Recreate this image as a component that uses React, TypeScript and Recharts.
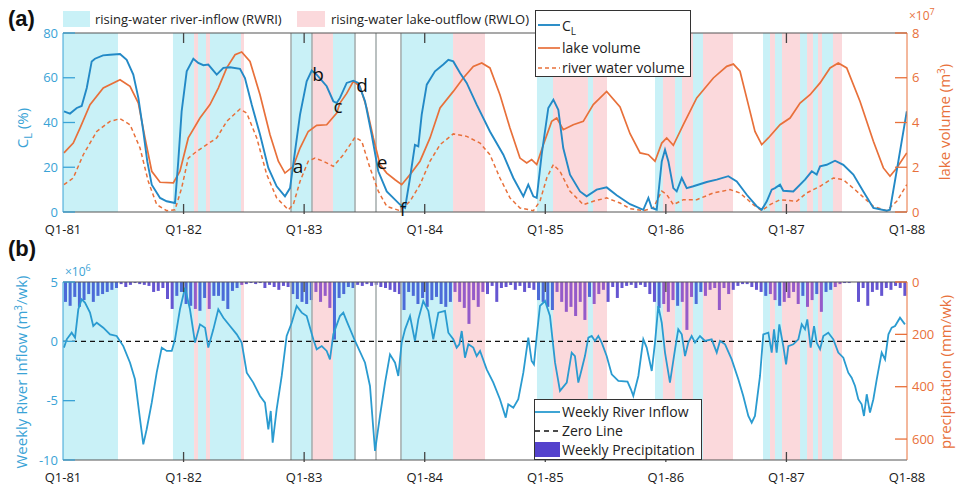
import { ComposedChart, Line, Bar, Cell, XAxis, YAxis, ReferenceArea, ReferenceLine } from "recharts"

const cyan = "#3aa3d6"
const orange = "#e8703a"
const clColor = "#2389c6"
const inflowColor = "#2a9bd0"
const bandRWRI = "#c9f1f7"
const bandRWLO = "#fbd9dc"
const precipColor = "#5442cc"
const precipInRWRI = "#3d5cd4"
const precipInRWLO = "#8a4cc6"
const eventColor = "#a3abab"
const frameColor = "#555"
const font = "'Open Sans', sans-serif"

// years since Q1-81
const yearTicks = [0, 1, 2, 3, 4, 5, 6, 7]
const yearLabels = ["Q1-81", "Q1-82", "Q1-83", "Q1-84", "Q1-85", "Q1-86", "Q1-87", "Q1-88"]

const rwriBands = [
  [0, 0.456], [0.912, 1.087], [1.12, 1.186], [1.219, 1.476], [1.891, 2.065], [2.239, 2.422],
  [2.803, 3.235], [3.931, 4.064], [4.354, 4.396], [4.91, 4.976], [5.076, 5.134], [5.225, 5.308],
  [5.806, 5.864], [5.905, 5.963], [6.113, 6.171], [6.22, 6.262], [6.295, 6.386],
]
const rwloBands = [
  [1.087, 1.12], [1.186, 1.219], [1.476, 1.501], [2.065, 2.239], [3.235, 3.5], [4.064, 4.354],
  [4.396, 4.512], [4.976, 5.076], [5.134, 5.225], [5.308, 5.557], [5.864, 5.905], [5.963, 6.113],
  [6.171, 6.22], [6.262, 6.295], [6.386, 6.461],
]
const eventLines = [1.891, 2.065, 2.422, 2.596, 2.803]

// C_L (%)
const clData = [
  [0.008, 45], [0.058, 44], [0.114, 46.5], [0.155, 47.4], [0.197, 55.4], [0.238, 67.3], [0.265, 68.5],
  [0.332, 70], [0.39, 70.3], [0.473, 70.6], [0.528, 68], [0.583, 61.4], [0.625, 51], [0.666, 36],
  [0.699, 22.6], [0.736, 12.2], [0.805, 6.3], [0.86, 4.8], [0.929, 4], [0.956, 22.6], [0.984, 45],
  [1.026, 62.9], [1.081, 68.5], [1.122, 66.6], [1.164, 65.6], [1.205, 65.9], [1.275, 61.4], [1.33, 64.4],
  [1.385, 64.7], [1.468, 64], [1.509, 59.9], [1.565, 48], [1.634, 34.6], [1.703, 19.7], [1.772, 11.5],
  [1.841, 7], [1.883, 10.7], [1.924, 27], [1.966, 43.5], [2.021, 58.4], [2.063, 63.2], [2.104, 61.4],
  [2.187, 56.2], [2.242, 49.5], [2.27, 48.7], [2.297, 51], [2.353, 57.7], [2.408, 58.7], [2.449, 57.7],
  [2.505, 49.5], [2.56, 34.6], [2.615, 18.2], [2.685, 9.2], [2.795, 3.3], [2.837, 1.8], [2.878, 15.2],
  [2.919, 30], [2.947, 29.3], [2.975, 43.5], [3.017, 56.9], [3.085, 62.9], [3.154, 65.9], [3.196, 68],
  [3.237, 67.3], [3.293, 62.1], [3.348, 57.7], [3.431, 48], [3.541, 36], [3.652, 25.6], [3.735, 15.2],
  [3.818, 7], [3.859, 12.2], [3.901, 7], [3.929, 6.3], [3.97, 25.6], [4.025, 46.5], [4.067, 50.2],
  [4.108, 45.7], [4.149, 28.6], [4.205, 16.7], [4.288, 9.2], [4.343, 7], [4.426, 10], [4.509, 11],
  [4.592, 7.5], [4.703, 3.5], [4.813, 1], [4.855, 6.3], [4.883, 1.8], [4.924, 1], [4.966, 22.6],
  [4.993, 27.8], [5.021, 22.6], [5.062, 10.7], [5.09, 9.2], [5.132, 15.2], [5.173, 10.7], [5.228, 11.5],
  [5.339, 13.4], [5.422, 14.5], [5.518, 16], [5.588, 13.7], [5.671, 7.7], [5.753, 2.6], [5.795, 1],
  [5.837, 4.8], [5.878, 10], [5.905, 10.7], [5.947, 12.2], [5.974, 9.5], [6.057, 9.2], [6.154, 14.5],
  [6.21, 18.2], [6.251, 16.7], [6.279, 20.4], [6.334, 21.1], [6.403, 22.9], [6.472, 21.1], [6.555, 16.7],
  [6.638, 9.2], [6.721, 1.8], [6.832, 0.6], [6.859, 1], [6.928, 22.6], [6.998, 45],
]

// lake volume (x10^7 m3)
const lakeData = [
  [0.008, 2.64], [0.085, 3.08], [0.141, 3.75], [0.224, 4.8], [0.334, 5.54], [0.473, 5.91], [0.556, 5.62],
  [0.625, 4.87], [0.68, 3.31], [0.736, 1.82], [0.805, 1.33], [0.915, 1.3], [0.97, 1.82], [1.039, 3.31],
  [1.136, 4.2], [1.219, 4.8], [1.288, 5.54], [1.358, 6.44], [1.427, 7.03], [1.482, 7.15], [1.551, 6.73],
  [1.634, 5.24], [1.717, 3.45], [1.786, 2.27], [1.841, 1.74], [1.91, 2.04], [1.966, 2.86], [2.034, 3.6],
  [2.104, 3.87], [2.187, 3.9], [2.27, 4.42], [2.297, 4.87], [2.353, 5.3], [2.408, 5.84], [2.463, 5.62],
  [2.519, 4.65], [2.574, 3.31], [2.629, 2.12], [2.685, 1.74], [2.754, 1.44], [2.809, 1.22], [2.878, 1.67],
  [2.961, 2.27], [3.044, 3.31], [3.127, 4.65], [3.237, 5.39], [3.32, 5.99], [3.403, 6.51], [3.473, 6.66],
  [3.541, 6.44], [3.624, 5.24], [3.707, 3.75], [3.79, 2.41], [3.846, 2.19], [3.887, 2.34], [3.929, 2.12],
  [3.984, 3.01], [4.053, 4.05], [4.095, 4.2], [4.149, 3.68], [4.232, 3.9], [4.315, 4.05], [4.398, 4.8],
  [4.509, 5.39], [4.62, 4.7], [4.703, 3.5], [4.786, 2.64], [4.855, 2.56], [4.91, 2.27], [4.966, 3.08],
  [5.007, 3.31], [5.062, 2.98], [5.145, 3.9], [5.256, 5.1], [5.394, 5.99], [5.505, 6.51], [5.56, 6.61],
  [5.615, 6.29], [5.684, 4.8], [5.739, 3.6], [5.795, 3.01], [5.85, 3.31], [5.947, 3.9], [6.03, 4.2],
  [6.113, 4.87], [6.196, 5.24], [6.279, 5.77], [6.362, 6.44], [6.43, 6.66], [6.5, 6.44], [6.61, 4.95],
  [6.721, 3.16], [6.804, 1.97], [6.859, 1.6], [6.915, 1.97], [6.998, 2.64],
]

// river water volume (x10^7 m3)
const riverData = [
  [0.008, 1.22], [0.085, 1.52], [0.168, 2.56], [0.28, 3.6], [0.39, 4.05], [0.473, 4.17], [0.556, 3.9],
  [0.639, 2.86], [0.707, 1.37], [0.777, 0.33], [0.86, 0.06], [0.929, 0.1], [0.984, 1.07], [1.039, 2.41],
  [1.109, 2.71], [1.192, 3.01], [1.275, 3.31], [1.358, 4.05], [1.468, 4.6], [1.524, 4.42], [1.607, 3.31],
  [1.69, 1.67], [1.772, 0.63], [1.869, 0.1], [1.91, 0.33], [1.966, 1.37], [2.034, 2.27], [2.09, 2.41],
  [2.159, 2.27], [2.242, 2.04], [2.325, 2.56], [2.422, 3.34], [2.478, 3.16], [2.546, 1.97], [2.615, 0.93],
  [2.685, 0.25], [2.795, 0.06], [2.878, 0.48], [2.961, 1.22], [3.044, 2.27], [3.127, 3.01], [3.237, 3.49],
  [3.348, 3.38], [3.459, 3.08], [3.541, 2.56], [3.624, 1.52], [3.707, 0.63], [3.79, 0.18], [3.901, 0.06],
  [3.956, 0.48], [4.012, 1.52], [4.067, 2.12], [4.122, 1.82], [4.205, 0.93], [4.315, 0.33], [4.398, 0.48],
  [4.509, 0.63], [4.62, 0.4], [4.703, 0.15], [4.813, 0.06], [4.896, 0.18], [4.966, 0.93], [5.007, 0.78],
  [5.062, 0.33], [5.145, 0.55], [5.256, 0.55], [5.394, 0.85], [5.532, 1.0], [5.615, 0.85], [5.725, 0.33],
  [5.795, 0.06], [5.864, 0.33], [5.947, 0.55], [6.085, 0.48], [6.168, 0.85], [6.279, 1.15], [6.389, 1.52],
  [6.472, 1.44], [6.583, 0.93], [6.721, 0.25], [6.832, 0.06], [6.915, 0.48], [6.998, 1.22],
]

// weekly river inflow (x10^6 m3/wk)
const inflowData = [
  [0.008, -0.53], [0.031, 0.17], [0.072, 0.73], [0.1, 0.31], [0.127, 2.7], [0.155, 3.54], [0.182, 3.26],
  [0.224, 2.42], [0.251, 1.29], [0.28, 1.57], [0.334, 1.15], [0.39, 0.59], [0.445, 0.45], [0.5, -0.4],
  [0.556, -1.8], [0.597, -3.2], [0.639, -6.57], [0.666, -8.68], [0.694, -7.41], [0.736, -5.17],
  [0.777, -2.64], [0.819, -0.53], [0.86, -0.81], [0.902, -0.81], [0.929, 0.17], [0.97, 2.7], [1.012, 4.52],
  [1.053, 2.7], [1.095, -0.11], [1.136, 1.43], [1.178, 1.15], [1.205, -0.53], [1.247, 1.01], [1.288, 2.7],
  [1.33, 1.99], [1.385, 1.29], [1.441, 0.59], [1.482, -0.11], [1.524, -2.64], [1.578, -3.48], [1.634, -4.6],
  [1.675, -5.17], [1.703, -7.41], [1.723, -5.87], [1.739, -8.54], [1.772, -5.73], [1.814, -2.92],
  [1.855, 0.45], [1.897, 1.57], [1.938, 2.98], [1.98, 2.42], [2.021, 2.13], [2.076, 0.17], [2.104, -0.67],
  [2.146, -0.4], [2.187, -0.81], [2.214, -1.52], [2.242, 0.59], [2.297, 2.13], [2.325, 2.42], [2.353, 1.71],
  [2.422, 0.03], [2.505, -1.8], [2.546, -3.76], [2.588, -9.24], [2.629, -6.29], [2.671, -3.48],
  [2.712, -1.1], [2.754, -1.8], [2.781, -2.92], [2.809, -0.11], [2.837, 1.01], [2.878, 2.13], [2.919, 0.03],
  [2.947, 1.85], [2.988, 3.4], [3.03, 2.56], [3.071, 0.17], [3.113, 2.42], [3.168, 2.56], [3.196, 0.73],
  [3.237, 0.17], [3.265, -0.53], [3.287, -0.25], [3.307, 0.87], [3.334, -1.38], [3.362, -0.25],
  [3.403, -0.53], [3.431, -1.24], [3.459, -0.81], [3.514, -2.36], [3.569, -3.48], [3.624, -4.88],
  [3.672, -6.43], [3.693, -5.31], [3.735, -5.59], [3.776, -4.88], [3.818, -2.64], [3.859, 0.31],
  [3.887, -1.66], [3.906, -1.94], [3.929, 0.45], [3.956, 2.98], [3.998, 3.4], [4.039, 2.13], [4.081, -1.8],
  [4.122, -4.18], [4.178, -3.48], [4.219, -0.95], [4.246, -1.24], [4.274, -3.48], [4.302, -2.36],
  [4.329, -1.24], [4.357, 0.31], [4.385, 0.45], [4.412, 0.03], [4.44, 0.45], [4.468, -0.11], [4.509, -1.24],
  [4.551, -2.78], [4.606, -3.34], [4.682, -3.4], [4.71, -4.04], [4.73, -4.6], [4.772, -2.92], [4.813, 0.17],
  [4.841, -0.53], [4.883, -2.5], [4.91, -0.11], [4.937, 2.98], [4.966, 1.57], [4.993, -0.95], [5.034, -3.48],
  [5.076, -0.67], [5.103, 1.01], [5.132, 0.59], [5.159, -1.24], [5.186, -0.11], [5.214, 0.45], [5.242, -0.11],
  [5.283, 0.45], [5.325, 0.03], [5.38, 0.17], [5.422, -0.95], [5.449, 0.03], [5.491, -0.25], [5.546, -1.52],
  [5.601, -3.2], [5.642, -4.6], [5.684, -6.29], [5.712, -6.85], [5.739, -6.29], [5.781, -2.92], [5.808, 0.59],
  [5.85, 0.73], [5.878, -0.95], [5.897, 1.01], [5.919, -0.95], [5.941, 1.43], [5.974, -0.4], [5.997, -1.94],
  [6.016, -0.4], [6.057, -0.25], [6.099, 0.17], [6.127, 1.43], [6.154, 1.01], [6.173, 1.85], [6.201, -0.53],
  [6.229, 1.29], [6.251, -0.11], [6.279, -0.67], [6.306, 0.45], [6.347, 0.73], [6.389, 0.17], [6.43, -0.95],
  [6.472, -1.38], [6.513, -2.64], [6.541, -3.06], [6.569, -3.76], [6.596, -4.88], [6.624, -5.31],
  [6.643, -6.29], [6.666, -4.46], [6.693, -6.01], [6.721, -4.88], [6.749, -3.2], [6.79, -0.95],
  [6.818, -1.52], [6.846, 0.59], [6.873, 1.15], [6.901, 1.29], [6.942, 1.99], [6.983, 1.43],
]

// precipitation (mm/wk), one value every 2 weeks from Q1-81
const precipStep = 1 / 26
const precip = [
  76, 91, 57, 95, 69, 46, 76, 53, 46, 38, 30, 23, 8, 19, 11, 4, 8, 11, 15, 38, 34, 23, 65, 103, 53, 38,
  84, 91, 103, 110, 61, 103, 53, 53, 72, 103, 34, 23, 11, 8, 4, 8, 4, 23, 11, 19, 30, 15, 19, 46, 65, 76,
  84, 69, 38, 76, 53, 99, 220, 61, 46, 19, 23, 11, 15, 8, 15, 11, 19, 23, 30, 38, 46, 107, 38, 53, 84, 61,
  95, 69, 57, 84, 95, 76, 38, 76, 99, 160, 69, 95, 38, 46, 15, 76, 23, 19, 11, 30, 15, 38, 23, 30, 69, 76,
  95, 107, 38, 76, 114, 95, 130, 76, 145, 57, 84, 46, 30, 76, 19, 61, 23, 15, 11, 23, 11, 19, 46, 76, 99, 84,
  114, 69, 91, 76, 183, 57, 84, 38, 53, 30, 23, 107, 23, 46, 30, 15, 8, 8, 19, 30, 38, 53, 46, 69, 91, 76,
  61, 38, 84, 53, 95, 69, 46, 114, 38, 30, 19, 8, 4, 4, 0, 76, 23, 91, 38, 30, 53, 23, 30, 15, 23, 53,
]

const toRows = (pts: number[][]) => pts.map(([t, v]) => ({ t, v }))
// bars hang down from the top of panel (b): stored negative on a [-680, 0] axis
const precipRows = precip.map((p, i) => ({ slot: i, p: -p }))

const inBands = (t: number, bands: number[][]) => bands.some(([a, b]) => t >= a && t < b)
function barColor(i: number) {
  const t = (i + 0.5) * precipStep
  if (inBands(t, rwriBands)) return precipInRWRI
  if (inBands(t, rwloBands)) return precipInRWLO
  return precipColor
}

function XTick(props: any) {
  const { x, y, payload, top } = props
  const inner = payload.value > 0 && payload.value < 7
  return (
    <g>
      {inner && <line x1={x} x2={x} y1={y} y2={y - 10} stroke="#444" strokeWidth={1.3} />}
      {inner && <line x1={x} x2={x} y1={top} y2={top + 10} stroke="#444" strokeWidth={1.3} />}
      <text x={x} y={y + 20} textAnchor="middle" fill="#1a1a1a" fontSize={13} fontFamily={font}>
        {yearLabels[yearTicks.indexOf(payload.value)]}
      </text>
    </g>
  )
}

function SideTick(props: any) {
  const { x, y, payload, color, side } = props
  const left = side === "left"
  const edge = left ? x + 5 : x - 5
  return (
    <g>
      <line x1={edge} x2={left ? edge + 12 : edge - 12} y1={y} y2={y} stroke={color} strokeWidth={1.3} />
      <text x={x} y={y + 4.5} textAnchor={left ? "end" : "start"} fill={color} fontSize={13} fontFamily={font}>
        {payload.value}
      </text>
    </g>
  )
}

function PrecipTick(props: any) {
  return <SideTick {...props} side="right" payload={{ value: Math.abs(props.payload.value) }} />
}

function TopPanel() {
  return (
    <ComposedChart width={958} height={240} margin={{ top: 33, right: 11, bottom: 8, left: 23 }}>
      {rwriBands.map(([a, b], i) => (
        <ReferenceArea key={"ri" + i} yAxisId="l" x1={a} x2={b} fill={bandRWRI} fillOpacity={1} stroke="none" ifOverflow="hidden" />
      ))}
      {rwloBands.map(([a, b], i) => (
        <ReferenceArea key={"ro" + i} yAxisId="l" x1={a} x2={b} fill={bandRWLO} fillOpacity={1} stroke="none" ifOverflow="hidden" />
      ))}
      {eventLines.map((t) => (
        <ReferenceLine key={t} yAxisId="l" x={t} stroke={eventColor} strokeWidth={1.5} />
      ))}
      <ReferenceLine yAxisId="l" y={80} stroke={frameColor} strokeWidth={1.2} />
      <XAxis
        type="number"
        dataKey="t"
        domain={[0, 7]}
        ticks={yearTicks}
        allowDataOverflow
        height={20}
        tickSize={0}
        interval={0}
        stroke={frameColor}
        tick={(p: any) => <XTick {...p} top={33} />}
      />
      <YAxis
        yAxisId="l"
        domain={[0, 80]}
        ticks={[0, 20, 40, 60, 80]}
        width={40}
        tickSize={0}
        tickMargin={5}
        interval={0}
        stroke={cyan}
        tick={(p: any) => <SideTick {...p} color={cyan} side="left" />}
      />
      <YAxis
        yAxisId="r"
        orientation="right"
        domain={[0, 8]}
        ticks={[0, 2, 4, 6, 8]}
        width={40}
        tickSize={0}
        tickMargin={5}
        interval={0}
        stroke={orange}
        tick={(p: any) => <SideTick {...p} color={orange} side="right" />}
      />
      <Line yAxisId="r" data={toRows(riverData)} dataKey="v" type="linear" stroke={orange} strokeWidth={1.5} strokeDasharray="4 3" dot={false} isAnimationActive={false} />
      <Line yAxisId="r" data={toRows(lakeData)} dataKey="v" type="linear" stroke={orange} strokeWidth={1.7} dot={false} isAnimationActive={false} />
      <Line yAxisId="l" data={toRows(clData)} dataKey="v" type="linear" stroke={clColor} strokeWidth={1.9} dot={false} isAnimationActive={false} />
    </ComposedChart>
  )
}

function BottomPanel() {
  return (
    <ComposedChart width={958} height={246} data={precipRows} margin={{ top: 42, right: 11, bottom: 6, left: 23 }}>
      {rwriBands.map(([a, b], i) => (
        <ReferenceArea key={"ri" + i} xAxisId="t" yAxisId="l" x1={a} x2={b} fill={bandRWRI} fillOpacity={1} stroke="none" ifOverflow="hidden" />
      ))}
      {rwloBands.map(([a, b], i) => (
        <ReferenceArea key={"ro" + i} xAxisId="t" yAxisId="l" x1={a} x2={b} fill={bandRWLO} fillOpacity={1} stroke="none" ifOverflow="hidden" />
      ))}
      {eventLines.map((t) => (
        <ReferenceLine key={t} xAxisId="t" yAxisId="l" x={t} stroke={eventColor} strokeWidth={1.5} />
      ))}
      <ReferenceLine xAxisId="t" yAxisId="l" y={5} stroke={frameColor} strokeWidth={1.2} />
      <XAxis xAxisId="c" type="category" dataKey="slot" hide height={0} />
      <XAxis
        xAxisId="t"
        type="number"
        dataKey="t"
        domain={[0, 7]}
        ticks={yearTicks}
        allowDataOverflow
        height={20}
        tickSize={0}
        interval={0}
        stroke={frameColor}
        tick={(p: any) => <XTick {...p} top={42} />}
      />
      <YAxis
        yAxisId="l"
        domain={[-10, 5]}
        ticks={[-10, -5, 0, 5]}
        width={40}
        tickSize={0}
        tickMargin={5}
        interval={0}
        allowDataOverflow
        stroke={cyan}
        tick={(p: any) => <SideTick {...p} color={cyan} side="left" />}
      />
      <YAxis
        yAxisId="p"
        orientation="right"
        domain={[-680, 0]}
        ticks={[-600, -400, -200, 0]}
        width={40}
        tickSize={0}
        tickMargin={5}
        interval={0}
        allowDataOverflow
        stroke={orange}
        tick={(p: any) => <PrecipTick {...p} color={orange} />}
      />
      <Bar xAxisId="c" yAxisId="p" dataKey="p" barSize={3} fillOpacity={0.9} isAnimationActive={false}>
        {precipRows.map((r) => (
          <Cell key={r.slot} fill={barColor(r.slot)} />
        ))}
      </Bar>
      <ReferenceLine xAxisId="t" yAxisId="l" y={0} stroke="#111" strokeWidth={1.3} strokeDasharray="5 4" />
      <Line xAxisId="t" yAxisId="l" data={toRows(inflowData)} dataKey="v" type="linear" stroke={inflowColor} strokeWidth={1.8} dot={false} isAnimationActive={false} />
    </ComposedChart>
  )
}

const txt = { fontFamily: font, fontSize: 13, fill: "#222" }

function Overlay() {
  return (
    <svg width={958} height={486} style={{ position: "absolute", left: 0, top: 0, pointerEvents: "none" }}>
      <text x={8} y={26} fontFamily="'Liberation Sans', Arial, sans-serif" fontWeight="bold" fontSize={22} fill="#111">(a)</text>
      <text x={8} y={256} fontFamily="'Liberation Sans', Arial, sans-serif" fontWeight="bold" fontSize={22} fill="#111">(b)</text>

      <rect x={63} y={11} width={27} height={16} fill={bandRWRI} />
      <text x={95} y={24} {...txt}>rising-water river-inflow (RWRI)</text>
      <rect x={297} y={11} width={28} height={16} fill={bandRWLO} />
      <text x={331} y={24} {...txt}>rising-water lake-outflow (RWLO)</text>

      <rect x={535.5} y={10.5} width={155} height={66} fill="#fff" stroke="#333" strokeWidth={1} />
      <line x1={538} x2={560} y1={25} y2={25} stroke={clColor} strokeWidth={1.9} />
      <text x={562} y={31} {...txt} fontSize={14}>C<tspan dy={4} fontSize={10}>L</tspan></text>
      <line x1={538} x2={560} y1={48} y2={48} stroke={orange} strokeWidth={1.7} />
      <text x={562} y={53} {...txt} fontSize={14}>lake volume</text>
      <line x1={538} x2={560} y1={68} y2={68} stroke={orange} strokeWidth={1.5} strokeDasharray="4 3" />
      <text x={562} y={73} {...txt} fontSize={14}>river water volume</text>

      <rect x={534.5} y={399.5} width={167} height={60} fill="#fff" stroke="#333" strokeWidth={1} />
      <line x1={535} x2={560} y1={412} y2={412} stroke={inflowColor} strokeWidth={1.8} />
      <text x={562} y={417} {...txt} fontSize={14}>Weekly River Inflow</text>
      <line x1={535} x2={560} y1={431} y2={431} stroke="#111" strokeWidth={1.3} strokeDasharray="5 4" />
      <text x={562} y={436} {...txt} fontSize={14}>Zero Line</text>
      <rect x={535} y={442} width={25} height={15} fill={precipColor} />
      <text x={562} y={455} {...txt} fontSize={14}>Weekly Precipitation</text>

      <text x={909} y={20} fontFamily={font} fontSize={12} fill={orange}>×10<tspan dy={-5} fontSize={9}>7</tspan></text>
      <text x={65} y={276} fontFamily={font} fontSize={12} fill={cyan}>×10<tspan dy={-5} fontSize={9}>6</tspan></text>

      {[["a", 298, 167], ["b", 318, 75], ["c", 338, 107], ["d", 362, 86], ["e", 382, 163], ["f", 403, 210]].map(([s, x, y]) => (
        <text key={s as string} x={x as number} y={(y as number) + 6} textAnchor="middle" fontFamily={font} fontSize={19} fill="#111">{s}</text>
      ))}

      <text transform="translate(28,128) rotate(-90)" textAnchor="middle" fontFamily={font} fontSize={15} fill={cyan}>
        C<tspan dy={4} fontSize={11}>L</tspan><tspan dy={-4}> (%)</tspan>
      </text>
      <text transform="translate(950,122) rotate(-90)" textAnchor="middle" fontFamily={font} fontSize={15} fill={orange}>
        lake volume (m<tspan dy={-5} fontSize={10}>3</tspan><tspan dy={5}>)</tspan>
      </text>
      <text transform="translate(27,372) rotate(-90)" textAnchor="middle" fontFamily={font} fontSize={15} fill={cyan}>
        Weekly River Inflow (m<tspan dy={-5} fontSize={10}>3</tspan><tspan dy={5}>/wk)</tspan>
      </text>
      <text transform="translate(951,372) rotate(-90)" textAnchor="middle" fontFamily={font} fontSize={15} fill={orange}>
        precipitation (mm/wk)
      </text>
    </svg>
  )
}

export default function App() {
  return (
    <div style={{ position: "fixed", left: 0, top: 0, width: 958, height: 486, background: "#fff", fontFamily: font }}>
      <div style={{ position: "absolute", left: 0, top: 0 }}>
        <TopPanel />
      </div>
      <div style={{ position: "absolute", left: 0, top: 240 }}>
        <BottomPanel />
      </div>
      <Overlay />
    </div>
  )
}
